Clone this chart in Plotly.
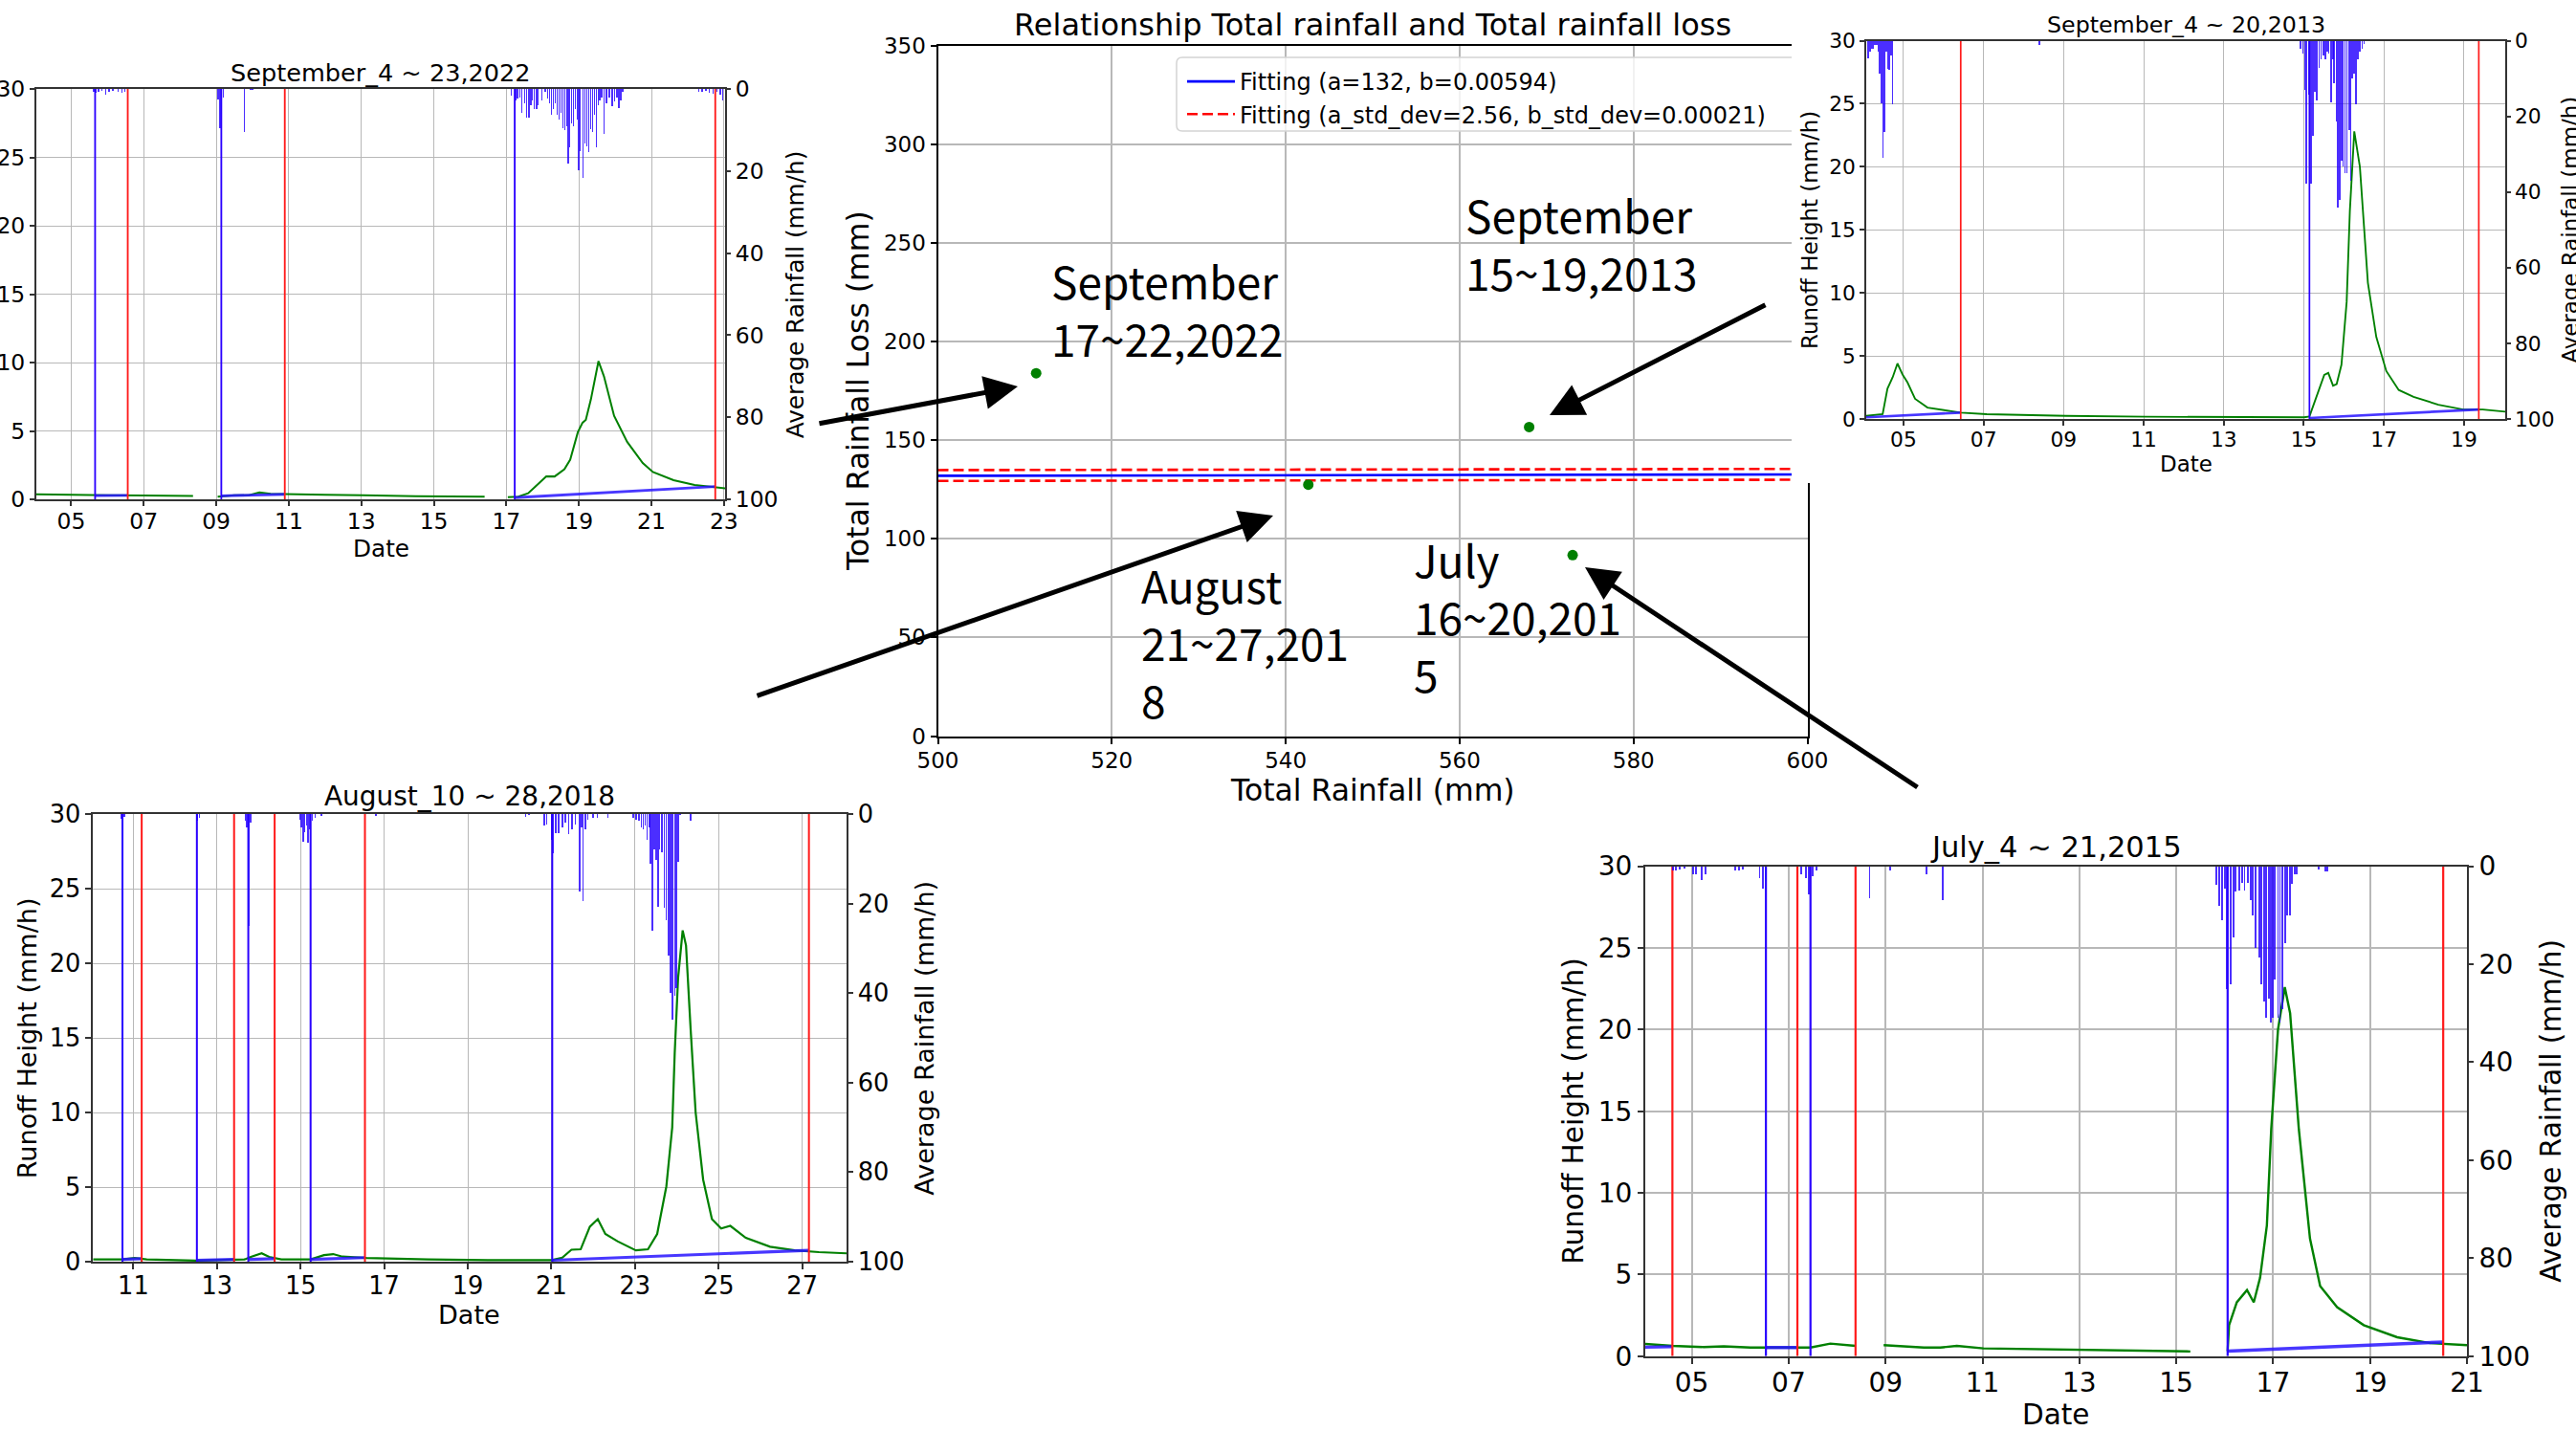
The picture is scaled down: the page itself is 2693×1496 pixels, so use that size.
import plotly.graph_objects as go

W, H = 2693, 1496
FONT = "DejaVu Sans"
BIGFONT = "Noto Sans CJK JP"
GRID = "#b8b8b8"

# ---------------- scatter panel data ----------------
event_rainfall = [511.3, 542.6, 568.0, 573.0]
event_loss = [183.9, 127.4, 156.6, 91.7]
fit_x = [500, 600]
fit_y = [131.9, 132.6]
fit_upper = [134.8, 135.4]
fit_lower = [129.3, 129.9]
sc_xticks = [500, 520, 540, 560, 580, 600]
sc_yticks = [0, 50, 100, 150, 200, 250, 300, 350]
event_labels = ["September<br>17~22,2022", "September<br>15~19,2013",
                "August<br>21~27,201<br>8", "July<br>16~20,201<br>5"]

# ---------------- September 4 ~ 23, 2022 ----------------
tl_range = [4.04, 23.03]
tl_ticks = [5, 7, 9, 11, 13, 15, 17, 19, 21, 23]
tl_ticktext = ["05", "07", "09", "11", "13", "15", "17", "19", "21", "23"]
tl_flow_t = [4.04, 5.0, 6.0, 7.0, 8.36, None, 9.04, 9.5, 9.9, 10.19, 10.5, 10.89, 12.0, 13.04, 14.5, 16.4,
             None, 17.04, 17.33, 17.6, 17.97, 18.1, 18.33, 18.6, 18.76, 18.97, 19.1, 19.19, 19.33, 19.54,
             19.69, 19.97, 20.33, 20.76, 21.04, 21.61, 22.19, 22.76, 23.04]
tl_flow_q = [0.37, 0.32, 0.3, 0.28, 0.25, None, 0.2, 0.3, 0.3, 0.5, 0.4, 0.37, 0.33, 0.3, 0.22, 0.2,
             None, 0.15, 0.2, 0.44, 1.4, 1.67, 1.67, 2.2, 2.9, 4.9, 5.6, 5.8, 7.3, 10.1,
             9.0, 6.1, 4.2, 2.65, 2.0, 1.4, 1.05, 0.86, 0.8]
tl_rain_t = [5.62, 5.68, 5.75, 5.85, 5.95, 6.05, 6.15, 6.3, 6.4, 6.48,
             9.05, 9.1, 9.15, 9.2, 9.78, 9.95, 10.0,
             17.14, 17.26, 17.31, 17.37, 17.43, 17.5, 17.56, 17.62, 17.67, 17.72, 17.77, 17.83, 17.88,
             17.98, 18.07, 18.14, 18.19, 18.24, 18.3, 18.35, 18.4, 18.45, 18.5, 18.56, 18.61, 18.66,
             18.7, 18.75, 18.8, 18.85, 18.9, 18.96, 19.0, 19.04, 19.11, 19.17, 19.22, 19.27, 19.32,
             19.37, 19.43, 19.48, 19.53, 19.58, 19.63, 19.7, 19.76, 19.84, 19.92, 19.98, 20.05, 20.1,
             20.16, 20.21,
             22.3, 22.4, 22.5, 22.6, 22.7, 22.8, 22.9, 22.97]
tl_rain_v = [0.8, 1.0, 0.6, 0.4, 1.4, 0.8, 0.5, 0.6, 1.0, 0.8,
             2.5, 9.6, 6.0, 2.0, 10.4, 0.3, 0.3,
             1.6, 2.7, 2.4, 2.0, 5.8, 3.5, 7.0, 7.0, 3.9, 2.7, 4.9, 4.9, 3.9,
             2.7, 0.8, 2.4, 3.5, 6.2, 4.9, 3.5, 6.2, 7.5, 5.8, 9.5, 10.0, 9.2,
             18.2, 14.3, 8.4, 9.2, 4.9, 7.5, 19.8, 15.1, 21.7, 13.3, 14.0, 15.3, 9.7,
             10.5, 6.3, 14.3, 3.9, 2.7, 2.0, 10.9, 3.5, 2.0, 4.2, 3.0, 2.0, 4.6,
             2.7, 0.6,
             0.6, 0.8, 0.5, 0.9, 1.2, 0.8, 1.5, 2.7]
tl_start = [5.66, 9.14, 17.23]
tl_end = [6.56, 10.89, 22.76]
tl_base_t = [[5.66, 6.56], [9.14, 10.89], [17.23, 22.76]]
tl_base_q = [[0.27, 0.29], [0.25, 0.37], [0.12, 0.93]]

# ---------------- September 4 ~ 20, 2013 ----------------
tr_range = [4.07, 20.03]
tr_ticks = [5, 7, 9, 11, 13, 15, 17, 19]
tr_ticktext = ["05", "07", "09", "11", "13", "15", "17", "19"]
tr_flow_t = [4.07, 4.48, 4.6, 4.73, 4.85, 4.91, 4.98, 5.1, 5.29, 5.6, 6.09, 6.43, 7.08, 9.06, 11.05,
             15.01, 15.14, 15.32, 15.51, 15.61, 15.73, 15.82, 15.94, 16.07, 16.15, 16.26, 16.4, 16.6,
             16.81, 17.06, 17.37, 17.74, 18.36, 18.98, 19.47, 20.03]
tr_flow_q = [0.25, 0.38, 2.4, 3.3, 4.4, 4.0, 3.5, 2.9, 1.6, 0.9, 0.63, 0.5, 0.38, 0.25, 0.18,
             0.13, 0.2, 1.76, 3.5, 3.65, 2.64, 2.77, 4.3, 9.3, 16.5, 22.8, 20.0, 10.8,
             6.5, 3.8, 2.3, 1.76, 1.13, 0.75, 0.75, 0.58]
tr_rain_t = [4.12, 4.16, 4.20, 4.24, 4.29, 4.33, 4.37, 4.41, 4.45, 4.49, 4.53, 4.57, 4.61, 4.65, 4.69, 4.73,
             8.4,
             14.92, 14.98, 15.02, 15.06, 15.13, 15.18, 15.23, 15.28, 15.33, 15.38, 15.43, 15.49, 15.54,
             15.58, 15.62, 15.68, 15.73, 15.76, 15.81, 15.85, 15.9, 15.94, 15.98, 16.03, 16.08, 16.13,
             16.17, 16.21, 16.26, 16.3, 16.35, 16.4, 16.46, 16.51]
tr_rain_v = [4.6, 2.8, 1.9, 1.9, 0.9, 0.9, 2.8, 8.7, 16.4, 30.8, 24.0, 2.8, 7.3, 7.6, 3.7, 16.8,
             1.0,
             1.9, 3.2, 12.9, 37.7, 14.1, 37.7, 25.0, 13.3, 15.8, 7.0, 4.9, 3.9, 4.9,
             2.7, 3.2, 16.2, 4.9, 11.2, 21.3, 44.0, 42.0, 31.7, 33.0, 34.8, 35.0, 23.4,
             36.8, 9.9, 8.6, 16.6, 4.9, 2.7, 1.9, 0.7]
tr_start = [15.14]
tr_end = [6.43, 19.37]
tr_base_t = [[4.07, 6.43], [15.14, 19.37]]
tr_base_q = [[0.13, 0.5], [0.08, 0.75]]

# ---------------- August 10 ~ 28, 2018 ----------------
bl_range = [10.03, 28.06]
bl_ticks = [11, 13, 15, 17, 19, 21, 23, 25, 27]
bl_ticktext = ["11", "13", "15", "17", "19", "21", "23", "25", "27"]
bl_flow_t = [10.04, 10.74, 11.03, 11.32, 12.49, 13.66, 13.81, 14.07, 14.25, 14.54, 15.24, 15.56, 15.78,
             16.0, 16.58, 18.05, 19.51, 21.01, 21.26, 21.48, 21.7, 21.92, 22.11, 22.29, 22.58, 23.02,
             23.31, 23.53, 23.75, 23.89, 23.95, 24.03, 24.14, 24.22, 24.33, 24.45, 24.63, 24.84, 25.06,
             25.28, 25.65, 26.23, 26.82, 27.4, 28.06]
bl_flow_q = [0.15, 0.15, 0.25, 0.15, 0.07, 0.15, 0.32, 0.56, 0.32, 0.15, 0.15, 0.44, 0.51,
             0.34, 0.25, 0.15, 0.1, 0.1, 0.27, 0.8, 0.83, 2.35, 2.85, 1.86, 1.37, 0.76,
             0.83, 1.86, 5.05, 9.0, 14.0, 19.0, 22.2, 21.2, 15.6, 10.0, 5.5, 2.85, 2.23,
             2.4, 1.6, 1.0, 0.76, 0.64, 0.56]
bl_rain_t = [10.72, 10.78, 12.53, 12.58, 13.68, 13.72, 13.76, 13.8,
             14.98, 15.02, 15.06, 15.1, 15.14, 15.18, 15.22, 15.28, 15.35, 15.5, 16.8,
             20.38, 20.46, 20.83, 20.89, 21.01, 21.05, 21.11, 21.18, 21.26, 21.34, 21.41, 21.49, 21.57,
             21.67, 21.72, 21.76, 21.81, 21.87, 21.99, 22.1, 22.35,
             22.95, 23.02, 23.09, 23.15, 23.2, 23.24, 23.29, 23.34, 23.37, 23.41, 23.46, 23.5, 23.55,
             23.59, 23.65, 23.7, 23.75, 23.8, 23.85, 23.9, 23.95, 23.99, 24.04, 24.08, 24.33]
bl_rain_v = [1.0, 0.6, 1.4, 0.8, 1.5, 3.0, 25.0, 2.0,
             1.2, 3.0, 6.2, 4.0, 2.5, 6.4, 3.5, 1.5, 0.8, 0.5, 0.4,
             0.7, 0.3, 2.6, 2.3, 5.8, 8.7, 4.3, 4.3, 3.0, 1.9, 4.5, 3.5, 2.3,
             17.2, 3.0, 19.4, 3.5, 1.2, 0.9, 0.9, 0.9,
             0.9, 1.2, 1.6, 3.0, 3.5, 2.6, 5.8, 3.0, 11.2, 26.1, 7.9, 10.3, 20.8,
             7.9, 8.6, 21.0, 23.8, 31.6, 40.0, 46.0, 40.5, 38.9, 10.6, 0.2, 1.6]
bl_start = [10.74, 12.52, 13.75, 15.24, 21.02]
bl_end = [11.20, 13.41, 14.38, 16.54, 27.16]
bl_base_t = [[10.74, 11.2], [12.52, 13.41], [13.75, 14.38], [15.24, 16.54], [21.02, 27.16]]
bl_base_q = [[0.15, 0.2], [0.1, 0.15], [0.15, 0.2], [0.15, 0.27], [0.1, 0.76]]

# ---------------- July 4 ~ 21, 2015 ----------------
br_range = [4.04, 21.0]
br_ticks = [5, 7, 9, 11, 13, 15, 17, 19, 21]
br_ticktext = ["05", "07", "09", "11", "13", "15", "17", "19", "21"]
br_flow_t = [4.04, 4.6, 5.25, 5.66, 6.21, 6.9, 7.45, 7.86, 8.14, 8.38, None,
             8.96, 9.79, 10.13, 10.47, 11.02, 11.99, 13.36, 14.74, 15.29, None,
             16.06, 16.09, 16.25, 16.46, 16.6, 16.73, 16.87, 16.96, 17.1, 17.24, 17.35, 17.53, 17.76,
             17.97, 18.32, 18.87, 19.56, 20.24, 21.0]
br_flow_q = [0.75, 0.63, 0.56, 0.6, 0.53, 0.53, 0.53, 0.77, 0.68, 0.63, None,
             0.68, 0.53, 0.53, 0.63, 0.48, 0.43, 0.36, 0.29, 0.29, None,
             0.31, 1.9, 3.3, 4.05, 3.3, 4.8, 8.0, 13.9, 20.0, 22.6, 21.0, 13.9, 7.2,
             4.3, 3.0, 1.9, 1.16, 0.8, 0.68]
br_rain_t = [4.62, 4.68, 4.75, 4.85, 5.02, 5.08, 5.2, 5.28, 5.9, 5.98, 6.05, 6.4, 6.46, 6.52,
             7.25, 7.35, 7.42, 7.5, 7.58, 8.67, 9.1, 9.84, 10.18,
             15.82, 15.89, 15.95, 16.0, 16.05, 16.12, 16.18, 16.23, 16.3, 16.36, 16.41, 16.47, 16.53,
             16.58, 16.64, 16.71, 16.76, 16.81, 16.86, 16.91, 16.95, 16.99, 17.04, 17.1, 17.14, 17.19,
             17.24, 17.29, 17.34, 17.39, 17.44, 17.48, 17.94, 18.08, 18.12]
br_rain_v = [0.8, 0.8, 0.5, 0.4, 1.6, 1.6, 2.8, 1.6, 0.8, 0.8, 0.6, 2.4, 4.4, 3.0,
             1.6, 2.4, 5.6, 2.0, 0.8, 6.4, 0.8, 1.6, 6.8,
             3.8, 8.0, 11.0, 4.5, 24.9, 24.0, 14.5, 5.0, 4.8, 3.3, 4.8, 3.3, 6.8,
             10.0, 16.5, 18.5, 24.0, 27.5, 30.8, 26.9, 31.8, 30.8, 23.0, 30.8, 31.8, 29.0,
             15.7, 10.0, 10.0, 3.6, 1.6, 1.6, 0.6, 1.0, 1.0]
br_start = [6.53, 7.45, 16.06]
br_end = [4.60, 7.18, 8.38, 20.51]
br_base_t = [[4.04, 4.6], [6.53, 7.18], [16.06, 20.51]]
br_base_q = [[0.55, 0.58], [0.53, 0.53], [0.31, 0.87]]

runoff_ticks = [0, 5, 10, 15, 20, 25, 30]
rain_ticks = [0, 20, 40, 60, 80, 100]

fig = go.Figure()
annotations = []
shapes = []


def fx(p):
    return p / W


def fy(p):
    return 1 - p / H


def ann(text, x, y, size, angle=0, xanchor="center", yanchor="middle", family=FONT, align="center"):
    annotations.append(dict(text=text, x=fx(x), y=fy(y), xref="paper", yref="paper", showarrow=False,
                            font=dict(size=size, family=family, color="black"), textangle=angle,
                            xanchor=xanchor, yanchor=yanchor, align=align))


def key(a):
    return ("xaxis" if a[0] == "x" else "yaxis") + a[1:]


def hydro(xa, ya, yb, box, s, rng, ticks, ticktext, flow_t, flow_q, rain_t, rain_v,
          starts, ends, base_t, base_q, title, left_title=True):
    l, r, t, b = box
    fig.add_trace(go.Scatter(x=flow_t, y=flow_q, mode="lines", connectgaps=False,
                             line=dict(color="#008000", width=2.4 * s),
                             xaxis=xa, yaxis=ya, showlegend=False, hoverinfo="skip"))
    bx, by = [], []
    for tt, qq in zip(base_t, base_q):
        bx += list(tt) + [None]
        by += list(qq) + [None]
    fig.add_trace(go.Scatter(x=bx, y=by, mode="lines", line=dict(color="rgba(40,20,255,0.85)", width=3.4 * s),
                             xaxis=xa, yaxis=ya, showlegend=False, hoverinfo="skip"))
    for vals, col in ((starts, "#2a00ff"), (ends, "#ff1a1a")):
        vx, vy = [], []
        for v in vals:
            vx += [v, v, None]
            vy += [0, 30, None]
        fig.add_trace(go.Scatter(x=vx, y=vy, mode="lines", line=dict(color=col, width=2.2 * s),
                                 xaxis=xa, yaxis=ya, showlegend=False, hoverinfo="skip"))
    fig.add_trace(go.Bar(x=rain_t, y=rain_v, width=0.038, base=0,
                         marker=dict(color="rgba(35,0,255,0.82)", line=dict(width=0)),
                         xaxis=xa, yaxis=yb, showlegend=False, hoverinfo="skip"))
    tf = dict(family=FONT, size=28 * s, color="black")
    common = dict(showgrid=True, gridcolor=GRID, gridwidth=1.6 * s, showline=True, linecolor="#333333",
                  linewidth=2, mirror=True, ticks="outside", ticklen=6 * s, tickwidth=1.5,
                  tickcolor="#333333", zeroline=False, tickfont=tf)
    fig.layout[key(xa)] = dict(domain=[fx(l), fx(r)], range=rng, tickvals=ticks, ticktext=ticktext,
                               anchor=ya, ticklabelstandoff=-4, **common)
    fig.layout[key(ya)] = dict(domain=[fy(b), fy(t)], range=[0, 30], tickvals=runoff_ticks,
                               anchor=xa, **common)
    fig.layout[key(yb)] = dict(overlaying=ya, side="right", anchor=xa, range=[100, 0], tickvals=rain_ticks,
                               showgrid=False, showline=False, zeroline=False, ticks="outside",
                               ticklen=6 * s, tickwidth=1.5, tickcolor="#333333", tickfont=tf)
    cx = (l + r) / 2
    cy = (t + b) / 2
    ann(title, cx, t - 20.6 * s, 30.5 * s)
    ann("Date", cx, b + 61 * s, 29.5 * s)
    if left_title:
        ann("Runoff Height (mm/h)", l - 75 * s, cy, 29.5 * s, angle=-90)
    ann("Average Rainfall (mm/h)", r + 88 * s, cy, 29.5 * s, angle=-90)


# ---------- panel 1 : top left (its left axis title lies outside the picture) ----------
hydro("x", "y", "y2", (38, 758, 93, 522), 0.838, tl_range, tl_ticks, tl_ticktext,
      tl_flow_t, tl_flow_q, tl_rain_t, tl_rain_v, tl_start, tl_end, tl_base_t, tl_base_q,
      "September_4 ~ 23,2022", left_title=False)

# ---------- panel 2 : scatter ----------
fig.add_trace(go.Scatter(x=fit_x, y=fit_y, mode="lines", line=dict(color="blue", width=2.6),
                         name="Fitting (a=132, b=0.00594)", xaxis="x2", yaxis="y3", hoverinfo="skip"))
fig.add_trace(go.Scatter(x=fit_x, y=fit_upper, mode="lines", line=dict(color="red", width=2.6, dash="11px,5px"),
                         name="Fitting (a_std_dev=2.56, b_std_dev=0.00021)", xaxis="x2", yaxis="y3",
                         hoverinfo="skip"))
fig.add_trace(go.Scatter(x=fit_x, y=fit_lower, mode="lines", line=dict(color="red", width=2.6, dash="11px,5px"),
                         showlegend=False, xaxis="x2", yaxis="y3", hoverinfo="skip"))
fig.add_trace(go.Scatter(x=event_rainfall, y=event_loss, mode="markers",
                         marker=dict(color="#008000", size=11), showlegend=False,
                         xaxis="x2", yaxis="y3", hoverinfo="skip"))
sc_common = dict(showgrid=True, gridcolor=GRID, gridwidth=1.5, showline=True, linecolor="black",
                 linewidth=2, mirror=True, ticks="outside", ticklen=6, tickwidth=1.5, tickcolor="black",
                 zeroline=False, tickfont=dict(family=FONT, size=23, color="black"))
fig.layout["xaxis2"] = dict(domain=[fx(980.5), fx(1889.5)], range=[500, 600], tickvals=sc_xticks,
                            anchor="y3", ticklabelstandoff=-2, **sc_common)
fig.layout["yaxis3"] = dict(domain=[fy(769.5), fy(47.5)], range=[0, 350], tickvals=sc_yticks,
                            anchor="x2", **sc_common)
ann("Relationship Total rainfall and Total rainfall loss", 1435, 26, 32)
ann("Total Rainfall (mm)", 1435, 826, 31.5)
ann("Total Rainfall Loss (mm)", 897, 409, 31.5, angle=-90)

# legend frame (right part hidden behind the upper-right panel)
lx0, lx1, ly0, ly1, rr = 1230, 1873, 60, 137, 6
shapes.append(dict(type="path", xref="paper", yref="paper", layer="above",
                   path=(f"M{fx(lx1)},{fy(ly0)} L{fx(lx0 + rr)},{fy(ly0)} Q{fx(lx0)},{fy(ly0)} {fx(lx0)},{fy(ly0 + rr)} "
                         f"L{fx(lx0)},{fy(ly1 - rr)} Q{fx(lx0)},{fy(ly1)} {fx(lx0 + rr)},{fy(ly1)} L{fx(lx1)},{fy(ly1)}"),
                   fillcolor="rgba(255,255,255,0.8)", line=dict(color="#d4d4d4", width=1.5)))

# ---------- cover: upper-right panel background overlapping the scatter ----------
fig.add_trace(go.Scatter(x=[0, 1, 1, 0, 0], y=[0, 0, 1, 1, 0], mode="lines", fill="toself",
                         fillcolor="white", line=dict(width=0, color="white"), xaxis="x3", yaxis="y4",
                         showlegend=False, hoverinfo="skip"))
fig.layout["xaxis3"] = dict(domain=[fx(1873), 1.0], range=[0, 1], visible=False, anchor="y4")
fig.layout["yaxis4"] = dict(domain=[fy(505), 1.0], range=[0, 1], visible=False, anchor="x3")

# ---------- panel 3 : top right ----------
hydro("x4", "y5", "y6", (1951, 2619, 42.5, 438), 0.778, tr_range, tr_ticks, tr_ticktext,
      tr_flow_t, tr_flow_q, tr_rain_t, tr_rain_v, tr_start, tr_end, tr_base_t, tr_base_q,
      "September_4 ~ 20,2013")

# ---------- panel 4 : bottom left ----------
hydro("x5", "y7", "y8", (97, 885, 851, 1319), 0.917, bl_range, bl_ticks, bl_ticktext,
      bl_flow_t, bl_flow_q, bl_rain_t, bl_rain_v, bl_start, bl_end, bl_base_t, bl_base_q,
      "August_10 ~ 28,2018")

# ---------- panel 5 : bottom right ----------
hydro("x6", "y9", "y10", (1720, 2579, 905.6, 1417.8), 1.0, br_range, br_ticks, br_ticktext,
      br_flow_t, br_flow_q, br_rain_t, br_rain_v, br_start, br_end, br_base_t, br_base_q,
      "July_4 ~ 21,2015")

# ---------- event labels and arrows ----------
label_pos = [(1097, 323), (1530, 254), (1191, 671), (1476, 644)]
for txt, (px, py) in zip(event_labels, label_pos):
    ann(txt, px, py, 46, xanchor="left", family=BIGFONT, align="left")

arrows = [((1064, 404), (855, 443)), ((1620, 434), (1847, 318)),
          ((1331, 539), (790, 728)), ((1657, 593), (2006, 824))]
for (hx, hy), (tx, ty) in arrows:
    annotations.append(dict(x=fx(hx), y=fy(hy), xref="paper", yref="paper", ax=tx - hx, ay=ty - hy,
                            axref="pixel", ayref="pixel", text="", showarrow=True, arrowhead=2,
                            arrowsize=1.4, arrowwidth=5, arrowcolor="black", standoff=0))

fig.update_layout(
    width=W, height=H, autosize=False,
    margin=dict(l=0, r=0, t=0, b=0, pad=0, autoexpand=False),
    paper_bgcolor="white", plot_bgcolor="white",
    barmode="overlay", bargap=0,
    showlegend=True,
    legend=dict(x=fx(1236), y=fy(63), xanchor="left", yanchor="top", bgcolor="rgba(0,0,0,0)",
                borderwidth=0, font=dict(family=FONT, size=24, color="black"), itemwidth=50,
                tracegroupgap=0),
    annotations=annotations,
    shapes=shapes,
)

fig.write_html("out.html", config={"displayModeBar": False},
               post_script="document.body.style.margin='0';document.body.style.overflow='hidden';")
